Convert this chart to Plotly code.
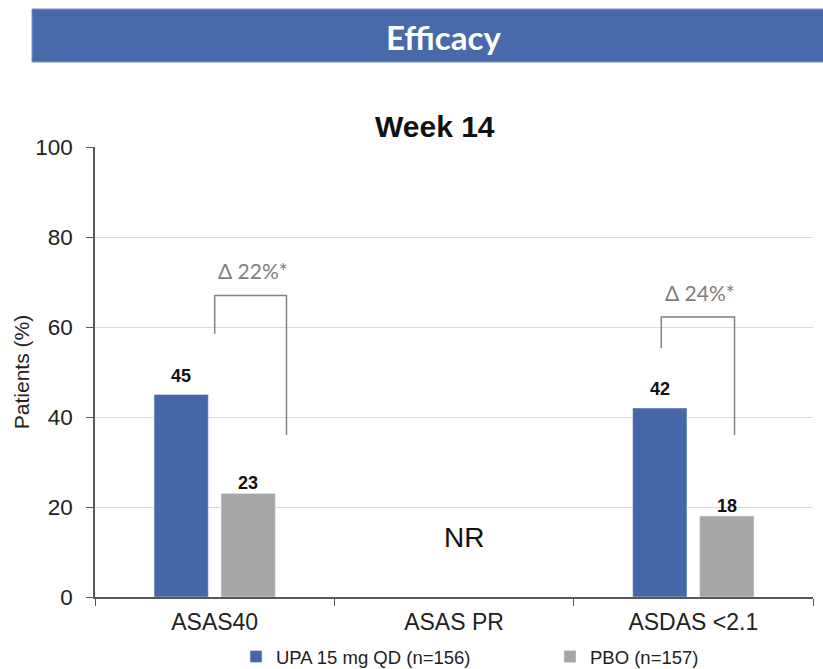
import plotly.graph_objects as go

# Endpoints and response rates at week 14
categories = ["ASAS40", "ASAS PR", "ASDAS <2.1"]
upa_values = [45, None, 42]
pbo_values = [23, None, 18]
upa_name = "UPA 15 mg QD (n=156)"
pbo_name = "PBO (n=157)"
delta_labels = ["Δ 22%*", None, "Δ 24%*"]
y_ticks = [0, 20, 40, 60, 80, 100]

BLUE = "#4566A8"
GREY = "#A6A6A6"
BANNER = "#4869AA"

W, H = 823, 669
ML, MR, MT, MB = 95, 10, 147, 72
PW, PH = W - ML - MR, H - MT - MB


def px(x):
    return (x - ML) / PW


def py(y):
    return (H - MB - y) / PH


fig = go.Figure()
fig.add_bar(x=categories, y=upa_values, name=upa_name, marker_color=BLUE,
            hoverinfo="skip", legend="legend")
fig.add_bar(x=categories, y=pbo_values, name=pbo_name, marker_color=GREY,
            hoverinfo="skip", legend="legend2")

annotations = []
# value labels above each bar
slot = 0.28
for i, (u, p) in enumerate(zip(upa_values, pbo_values)):
    for v, off, shift in ((u, -slot / 2, 19), (p, slot / 2, 10.5)):
        if v is None:
            continue
        annotations.append(dict(x=i + off, y=v, xref="x", yref="y",
                                xanchor="center", yanchor="middle",
                                text=f"<b>{v}</b>", showarrow=False,
                                yshift=shift,
                                font=dict(family="Liberation Sans", size=18, color="#111")))

# "not reported" marker for the middle endpoint
annotations.append(dict(x=1.04, y=13.3, xref="x", yref="y", text="NR", showarrow=False,
                        xanchor="center", yanchor="middle",
                        font=dict(family="Liberation Sans", size=28, color="#111")))

# difference brackets: (left x, left bottom y, top y, right x, right bottom y)
brackets = {
    0: (0.0, 58.5, 67, 0.30, 36),
    2: (1.866, 55.3, 62.2, 2.172, 36),
}
shapes = []
for i, (xl, yl, yt, xr, yr) in brackets.items():
    shapes.append(dict(type="path", xref="x", yref="y",
                       path=f"M {xl},{yl} L {xl},{yt} L {xr},{yt} L {xr},{yr}",
                       line=dict(color="#808080", width=1.5)))
    annotations.append(dict(x=(xl + xr) / 2 + 0.01, y=yt, xref="x", yref="y",
                            xanchor="center", yanchor="middle",
                            text=delta_labels[i], showarrow=False, yshift=25,
                            font=dict(family="Lato", size=21, color="#7F7F7F")))

# header banner
shapes.append(dict(type="rect", xref="paper", yref="paper",
                   x0=px(32), x1=px(830), y0=py(62), y1=py(9),
                   fillcolor=BANNER, line=dict(color="#7D96C6", width=1), layer="above"))
annotations.append(dict(x=px(443), y=py(37), xref="paper", yref="paper",
                        xanchor="center", yanchor="middle",
                        text="<b>Efficacy</b>", showarrow=False,
                        font=dict(family="Lato", size=33, color="white")))
annotations.append(dict(x=px(435), y=py(126), xref="paper", yref="paper",
                        xanchor="center", yanchor="middle",
                        text="<b>Week 14</b>", showarrow=False,
                        font=dict(family="Liberation Sans", size=30, color="#111")))

legend_common = dict(orientation="h", xanchor="left", yanchor="middle",
                     xref="container", yref="container", y=1 - 657 / H,
                     font=dict(family="Liberation Sans", size=18.5, color="#222"),
                     itemwidth=30, bgcolor="rgba(0,0,0,0)", borderwidth=0)

fig.update_layout(
    width=W, height=H,
    margin=dict(l=ML, r=MR, t=MT, b=MB),
    paper_bgcolor="white", plot_bgcolor="white",
    barmode="group", bargap=0.44, bargroupgap=0.19,
    showlegend=True,
    legend=dict(x=236 / W, **legend_common),
    legend2=dict(x=550 / W, **legend_common),
    shapes=shapes, annotations=annotations,
    font=dict(family="Liberation Sans", color="#222"),
)
fig.update_xaxes(
    type="category", categoryorder="array", categoryarray=categories,
    range=[-0.5, 2.5], automargin=False,
    showline=True, linecolor="#595959", linewidth=1.5,
    ticks="outside", tickson="boundaries", ticklen=7, tickcolor="#595959",
    ticklabelstandoff=4,
    tickfont=dict(family="Liberation Sans", size=23, color="#222"),
    showgrid=False,
)
fig.update_yaxes(
    range=[0, 100], tickvals=y_ticks, automargin=False,
    showline=True, linecolor="#595959", linewidth=1.5,
    ticks="outside", ticklen=7, tickcolor="#595959", ticklabelstandoff=9,
    tickfont=dict(family="Liberation Sans", size=22.5, color="#222"),
    showgrid=True, gridcolor="#D9D9D9", gridwidth=1, zeroline=False,
    title=dict(text="Patients (%)", font=dict(family="Liberation Sans", size=21, color="#222"),
               standoff=0),
)

fig.write_html("out.html")
